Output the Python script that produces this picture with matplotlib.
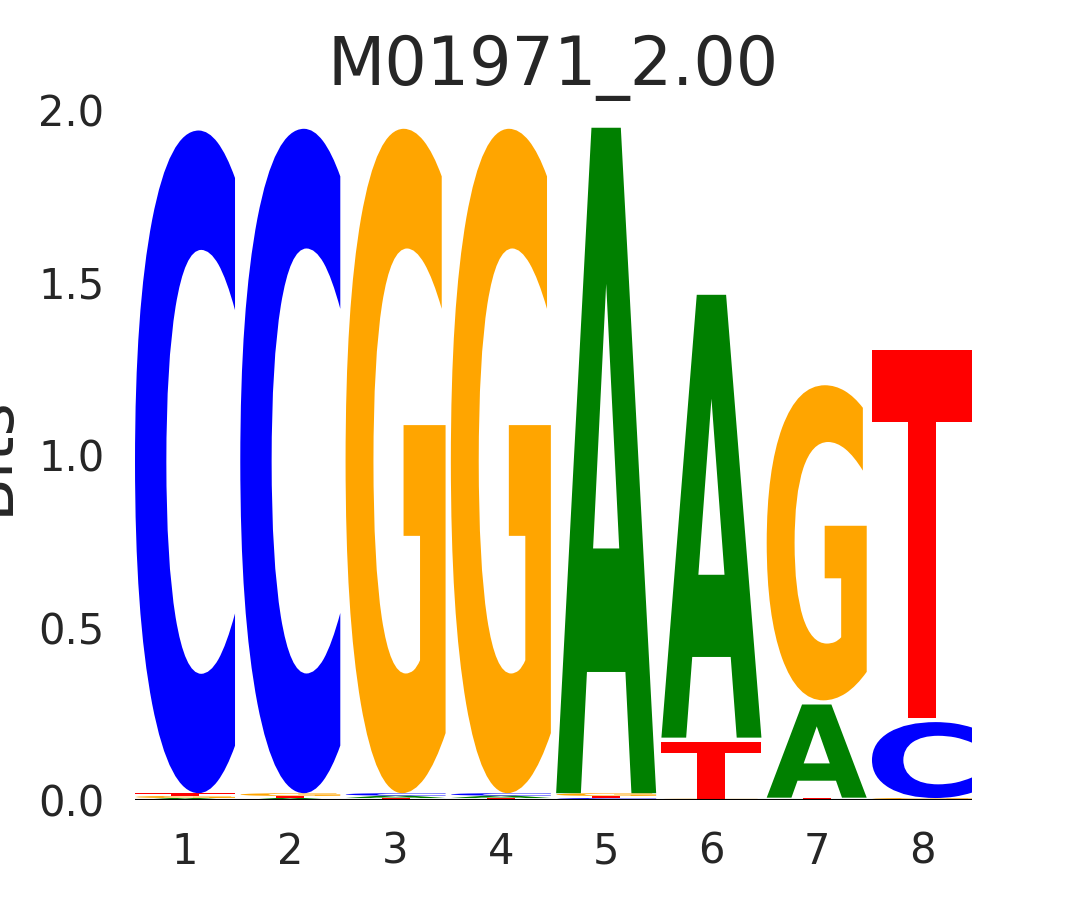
import numpy as np
import matplotlib
matplotlib.use('Agg')
import matplotlib.pyplot as plt
from matplotlib.textpath import TextPath
from matplotlib.patches import PathPatch
from matplotlib.font_manager import FontProperties
from matplotlib.transforms import Affine2D

title = 'M01971_2.00'
letters = ['A', 'C', 'G', 'T']
colors = {'A': 'green', 'C': 'blue', 'G': 'orange', 'T': 'red'}
positions = [1, 2, 3, 4, 5, 6, 7, 8]

# bits per letter at each position (A, C, G, T)
A_bits = [0.006, 0.006, 0.007, 0.007, 1.940, 1.295, 0.282, 0.003]
C_bits = [1.932, 1.937, 0.007, 0.007, 0.006, 0.002, 0.003, 0.232]
G_bits = [0.006, 0.008, 1.937, 1.937, 0.008, 0.002, 0.925, 0.003]
T_bits = [0.008, 0.006, 0.006, 0.006, 0.006, 0.177, 0.004, 1.078]

gap = 0.012
width = 0.95
fp = FontProperties(family='DejaVu Sans', weight='bold')

fig = plt.figure(figsize=(10.8, 9), dpi=100)
ax = fig.add_axes([0.125, 0.111, 0.775, 0.767])


def draw_glyph(ax, ch, x, y0, y1, color):
    tp = TextPath((0, 0), ch, size=1, prop=fp)
    ext = tp.get_extents()
    sx = width / ext.width
    sy = (y1 - y0) / ext.height
    tr = Affine2D().translate(-ext.x0, -ext.y0).scale(sx, sy).translate(x - width / 2, y0)
    ax.add_patch(PathPatch(tr.transform_path(tp), facecolor=color, edgecolor='none'))


for i, p in enumerate(positions):
    vals = {'A': A_bits[i], 'C': C_bits[i], 'G': G_bits[i], 'T': T_bits[i]}
    floor = 0.0
    for ch in sorted(letters, key=lambda c: vals[c]):
        h = vals[ch]
        top = floor + h
        g = gap if h > 0.05 else 0.0
        draw_glyph(ax, ch, p, floor, top - g, colors[ch])
        floor = top

ax.axhline(0, color='black', lw=1.5, zorder=5)
ax.set_xlim(0.525, 8.475)
ax.set_ylim(0, 2.0)
ax.set_xticks(positions)
ax.set_yticks([0.0, 0.5, 1.0, 1.5, 2.0])
ax.set_yticklabels(['0.0', '0.5', '1.0', '1.5', '2.0'])
for s in ax.spines.values():
    s.set_visible(False)
ax.tick_params(length=0, labelsize=30, labelcolor='#262626', pad=22)
ax.set_title(title, fontsize=48, color='#262626', pad=18)
ax.set_ylabel('Bits', fontsize=46, color='#262626')
ax.yaxis.set_label_coords(-0.137, 0.5)

fig.savefig('out.png', dpi=100)
